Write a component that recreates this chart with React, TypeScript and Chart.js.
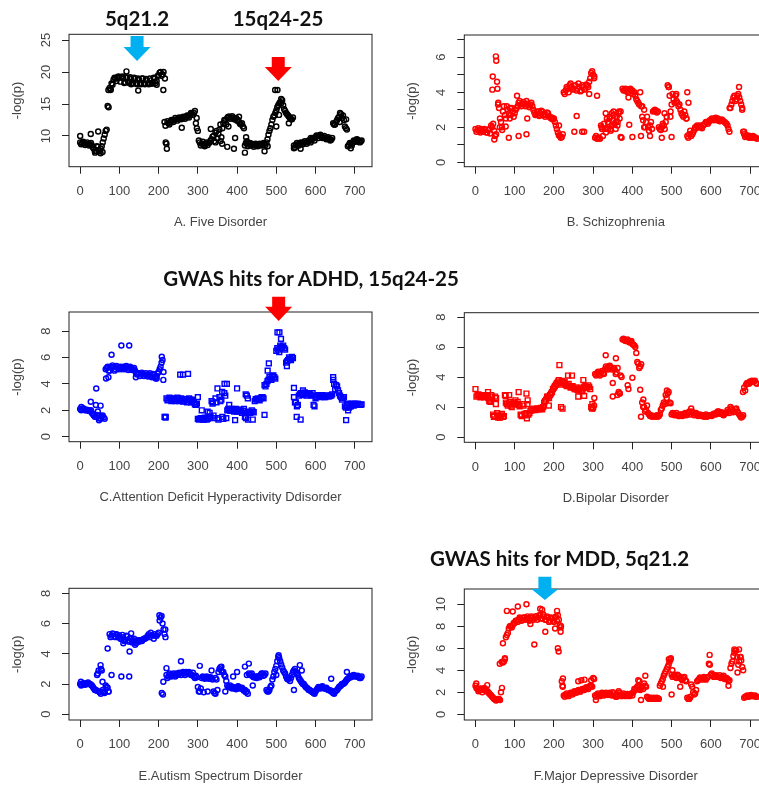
import { useEffect, useRef } from "react";
import { Chart, registerables } from "chart.js";

Chart.register(...registerables);

// SNP index spacing of the sampled values below:
// *Y arrays are read at x = 0,5,10,...; *Y2 arrays (other edge of each band) at x = 2.5,7.5,...
const STEP = 5;
const xTickValues = [0, 100, 200, 300, 400, 500, 600, 700];

// ---------- A. Five Disorder ----------
const fiveDisorderY = [
  9.0, 8.9, 8.9, 8.8, 8.8, 8.7, 8.5, 8.0, 7.7, 8.3,
  7.6, 8.4, 9.6, 10.8, 14.7, 17.5, 18.2, 18.8, 19.0, 19.2,
  19.1, 19.2, 19.0, 18.4, 19.1, 18.3, 19.0, 18.2, 19.0, 18.1,
  18.8, 18.1, 19.0, 18.1, 18.7, 18.1, 18.7, 18.2, 19.0, 18.6,
  19.5, 20.0, 19.6, 12.2, 8.8, 12.0, 12.2, 12.4, 12.5, 12.6,
  12.7, 12.7, 12.8, 12.9, 13.0, 13.1, 13.3, 13.5, 13.6, 12.0,
  10.8, 9.0, 8.8, 8.6, 8.8, 8.6, 9.0, 9.5, 10.0, 10.5,
  9.6, 11.0, 9.8, 12.0, 12.4, 12.8, 13.0, 12.9, 12.8, 12.6,
  12.4, 12.2, 11.8, 11.5, 8.5, 8.8, 8.7, 8.5, 8.6, 8.5,
  8.6, 8.5, 8.7, 8.6, 8.8, 9.0, 10.2, 11.2, 12.5, 13.2,
  14.0, 14.8, 15.3, 15.6, 14.2, 13.6, 13.2, 12.8, 12.6, 8.5,
  8.6, 8.7, 8.8, 8.9, 9.0, 9.0, 9.1, 9.2, 9.4, 9.6,
  9.8, 10.0, 10.0, 9.9, 9.8, 9.7, 9.6, 9.5, 9.4, 12.0,
  11.8, 12.5, 13.0, 13.4, 13.2, 11.5, 11.0, 8.6, 8.8, 9.0,
  9.2, 9.3, 9.2, 9.1,
];
const fiveDisorderY2 = [
  8.7, 9.1, 8.6, 9.0, 8.5, 8.9, 8.2, 7.6, 8.4, 7.8,
  8.0, 9.0, 10.2, 11.0, 14.5, 17.2, 18.0, 19.1, 18.6, 19.3,
  18.5, 19.3, 18.3, 19.2, 18.4, 19.2, 18.3, 19.1, 18.2, 19.0,
  18.2, 19.0, 18.2, 18.9, 18.2, 19.0, 18.2, 19.1, 18.3, 19.4,
  19.9, 19.4, 20.0, 11.6, 12.3, 11.8, 12.5, 12.2, 12.8, 12.4,
  12.9, 12.6, 13.0, 12.7, 13.2, 12.9, 13.6, 13.3, 13.9, 11.2,
  9.3, 8.5, 9.1, 8.4, 9.0, 8.9, 9.3, 9.9, 9.2, 10.8,
  10.3, 11.8, 11.2, 12.5, 11.8, 13.0, 12.7, 13.1, 12.6, 12.8,
  12.5, 11.9, 12.0, 11.2, 8.9, 8.4, 8.9, 8.8, 8.3, 8.8,
  8.4, 8.8, 8.5, 8.9, 8.6, 9.5, 10.8, 11.8, 13.0, 13.6,
  14.5, 15.1, 15.8, 14.8, 13.9, 13.4, 13.0, 12.6, 12.9, 8.2,
  8.9, 8.5, 9.0, 8.7, 9.2, 8.8, 9.3, 9.0, 9.7, 9.3,
  10.1, 9.7, 10.2, 9.7, 10.0, 9.5, 9.8, 9.3, 9.7, 11.8,
  12.2, 12.8, 13.6, 12.8, 12.5, 11.2, 8.4, 8.9, 8.5, 9.3,
  9.1, 9.4, 9.0, 9.3,
];
const fiveDisorderExtra = [
  [0, 10.0], [27, 10.3], [38, 7.4], [46, 10.7], [52, 7.3], [57, 7.5], [72, 17.2], [78, 17.3],
  [118, 20.1], [130, 18.1], [148, 17.1], [178, 18.2], [195, 18.0], [212, 17.2], [216, 19.0],
  [218, 9.0], [221, 8.0], [259, 11.3], [297, 12.8], [333, 11.1], [345, 9.0], [358, 9.2],
  [362, 8.8], [375, 8.3], [378, 11.5], [392, 8.0], [395, 9.7], [405, 13.0], [420, 7.4],
  [423, 9.8], [425, 9.2], [470, 7.6], [478, 8.4], [497, 17.2], [503, 17.2], [500, 11.5],
  [507, 13.3], [512, 15.1], [532, 12.0], [545, 8.1], [562, 8.0], [588, 9.7], [630, 9.6],
  [648, 11.8], [662, 12.2], [678, 12.6], [690, 8.1], [705, 9.5],
];

// ---------- B. Schizophrenia ----------
const schizophreniaY = [
  1.9, 1.85, 1.8, 1.9, 1.75, 1.85, 1.7, 1.9, 2.1, 2.2,
  1.5, 4.6, 3.1, 2.3, 2.9, 2.7, 3.2, 2.8, 2.7, 2.9,
  2.8, 3.1, 3.4, 3.3, 3.35, 3.3, 3.5, 3.25, 3.3, 3.2,
  2.85, 2.75, 2.7, 2.8, 2.9, 2.75, 2.7, 2.8, 2.6, 2.55,
  2.5, 2.1, 1.7, 1.5, 1.45, 4.0, 4.1, 4.2, 4.4, 4.3,
  4.2, 4.4, 4.2, 4.3, 4.1, 4.3, 4.2, 4.4, 4.6, 5.1,
  5.0, 1.4, 1.35, 1.4, 2.1, 1.5, 1.9, 2.5, 2.2, 1.9,
  2.4, 2.2, 2.6, 2.8, 1.45, 4.2, 4.1, 4.15, 4.05, 4.2,
  4.1, 4.0, 3.6, 3.4, 4.0, 2.6, 3.0, 2.3, 2.0, 2.1,
  1.9, 2.95, 2.95, 2.9, 1.9, 2.0, 2.1, 2.3, 4.4, 3.8,
  3.3, 3.6, 3.8, 3.4, 3.3, 2.8, 2.6, 2.7, 1.5, 1.6,
  1.5, 1.7, 2.0, 2.1, 2.0, 2.0, 2.1, 2.2, 2.3, 2.3,
  2.4, 2.45, 2.5, 2.4, 2.45, 2.4, 2.4, 2.3, 2.2, 1.9,
  3.1, 3.5, 3.8, 3.6, 3.9, 3.5, 3.0, 1.6, 1.5, 1.45,
  1.5, 1.4, 1.45, 1.4,
];
const schizophreniaY2 = [
  1.75, 1.95, 1.7, 1.8, 1.9, 1.7, 1.85, 1.65, 2.0, 1.8,
  1.6, 3.3, 2.5, 2.0, 3.2, 2.5, 3.0, 2.5, 3.1, 2.6,
  3.0, 3.2, 3.5, 3.2, 3.45, 3.2, 3.35, 3.15, 3.4, 3.0,
  2.7, 2.9, 2.65, 2.95, 2.7, 2.6, 2.85, 2.6, 2.5, 2.45,
  2.3, 1.9, 1.55, 1.4, 1.6, 3.9, 4.3, 4.0, 4.5, 4.15,
  4.35, 4.1, 4.5, 4.05, 4.4, 4.15, 4.45, 4.3, 4.8, 5.2,
  4.8, 1.5, 1.4, 1.35, 1.9, 2.2, 1.7, 2.3, 2.6, 2.1,
  2.7, 1.9, 2.3, 2.5, 1.4, 4.1, 4.2, 4.0, 4.15, 4.1,
  3.9, 3.8, 3.5, 3.3, 3.2, 2.4, 2.0, 2.6, 1.8, 2.3,
  2.9, 3.0, 2.85, 2.0, 1.85, 2.2, 1.9, 2.6, 4.3, 2.9,
  3.9, 3.4, 3.5, 3.2, 3.0, 2.7, 2.9, 2.5, 1.4, 1.8,
  1.6, 1.85, 1.95, 2.05, 2.1, 1.95, 2.15, 2.3, 2.2, 2.4,
  2.5, 2.4, 2.55, 2.5, 2.35, 2.45, 2.35, 2.25, 2.1, 1.75,
  3.3, 3.7, 3.5, 3.8, 3.7, 3.3, 1.75, 1.45, 1.55, 1.4,
  1.45, 1.5, 1.4, 1.35,
];
const schizophreniaExtra = [
  [43, 4.15], [44, 4.9], [48, 1.3], [52, 6.05], [53, 5.8], [56, 4.2], [58, 3.4], [62, 2.0],
  [68, 1.85], [77, 2.05], [85, 1.4], [88, 3.1], [106, 3.8], [110, 1.5], [130, 1.6], [132, 2.5],
  [162, 2.9], [213, 2.1], [252, 1.75], [258, 2.65], [272, 1.75], [277, 1.75], [290, 3.9],
  [303, 4.9], [310, 3.8], [322, 2.0], [332, 2.8], [338, 1.9], [342, 2.5], [345, 1.8],
  [348, 2.8], [352, 2.9], [358, 2.3], [362, 2.1], [366, 2.9], [370, 2.9], [390, 3.7],
  [392, 2.15], [400, 1.45], [422, 1.5], [425, 3.2], [430, 2.0], [445, 1.5], [475, 1.4],
  [482, 2.8], [493, 4.3], [497, 2.6], [500, 1.45], [512, 3.9], [540, 4.0], [543, 3.4],
  [538, 2.5], [648, 3.1], [672, 4.3], [680, 3.1], [685, 1.75],
];

// ---------- C. ADHD ----------
const adhdY = [
  2.1, 2.05, 2.1, 2.0, 2.0, 1.95, 1.8, 1.6, 1.5, 1.9,
  1.6, 1.5, 1.45, 5.1, 5.3, 5.0, 5.2, 5.3, 5.1, 5.25,
  5.2, 5.1, 5.3, 5.2, 5.25, 5.15, 5.2, 5.1, 5.0, 4.7,
  4.8, 4.7, 4.75, 4.7, 4.65, 4.7, 4.6, 4.75, 4.5, 4.6,
  4.9, 5.3, 5.8, 1.5, 2.9, 2.8, 2.9, 2.75, 2.85, 2.8,
  2.9, 2.75, 2.8, 2.7, 2.85, 2.75, 2.8, 2.7, 2.6, 2.4,
  1.35, 1.35, 1.4, 1.3, 1.4, 1.35, 1.8, 2.7, 1.6, 2.9,
  1.4, 3.0, 2.8, 1.35, 3.1, 2.0, 2.1, 1.95, 2.05, 2.0,
  1.9, 2.05, 2.0, 1.95, 1.5, 3.1, 1.9, 1.85, 1.9, 2.7,
  2.8, 2.85, 2.9, 3.0, 3.9, 4.0, 4.3, 4.4, 4.6, 4.5,
  6.5, 6.6, 6.9, 6.8, 6.7, 5.6, 5.8, 5.9, 6.05, 3.0,
  2.6, 2.4, 3.2, 3.3, 3.2, 3.3, 3.2, 3.25, 3.1, 2.4,
  2.9, 3.1, 3.05, 3.1, 3.05, 3.0, 3.1, 3.05, 3.1, 4.3,
  3.6, 3.8, 3.3, 3.0, 2.9, 2.3, 2.4, 2.2, 2.3, 2.4,
  2.5, 2.45, 2.45, 2.4,
];
const adhdY2 = [
  2.0, 2.15, 2.0, 2.05, 1.95, 2.0, 1.7, 1.5, 1.65, 1.4,
  1.35, 1.6, 1.35, 5.2, 5.0, 5.3, 5.4, 5.0, 5.35, 5.1,
  5.3, 5.2, 5.1, 5.35, 5.05, 5.3, 5.05, 5.2, 4.8, 4.8,
  4.6, 4.85, 4.6, 4.8, 4.55, 4.8, 4.5, 4.65, 4.4, 4.8,
  5.1, 5.6, 4.9, 1.45, 2.75, 2.95, 2.7, 2.9, 2.7, 2.95,
  2.7, 2.9, 2.65, 2.85, 2.6, 2.9, 2.6, 2.8, 2.45, 2.5,
  1.3, 1.4, 1.3, 1.45, 1.3, 1.4, 1.5, 2.5, 1.4, 2.6,
  1.3, 2.7, 1.5, 3.3, 1.4, 2.1, 1.95, 2.1, 1.9, 2.1,
  2.0, 1.9, 1.8, 2.1, 1.4, 2.9, 1.8, 2.0, 1.85, 2.85,
  2.9, 2.75, 3.0, 2.9, 3.8, 4.2, 4.5, 4.3, 4.65, 4.4,
  6.7, 6.4, 6.8, 6.9, 6.6, 5.7, 6.0, 5.8, 5.95, 2.6,
  2.3, 3.1, 3.3, 3.15, 3.35, 3.1, 3.3, 3.15, 3.3, 2.3,
  3.0, 3.15, 3.0, 3.15, 3.0, 3.1, 3.05, 3.1, 3.2, 4.0,
  3.9, 3.5, 3.1, 2.8, 3.0, 2.2, 2.5, 2.3, 2.5, 2.35,
  2.4, 2.5, 2.4, 2.45,
];
const adhdExtra = [
  [3, 2.25], [27, 2.65], [40, 2.4], [41, 3.65], [48, 1.25], [52, 2.35], [66, 4.4], [72, 4.5],
  [80, 6.2], [105, 6.9], [125, 6.9], [142, 4.5], [195, 4.4], [208, 6.05], [212, 4.3],
  [218, 1.5], [255, 4.7], [262, 4.7], [275, 4.75], [300, 3.0], [310, 2.0], [325, 1.9],
  [338, 2.6], [350, 3.65], [362, 3.4], [368, 4.0], [374, 4.0], [380, 2.4], [395, 1.25],
  [400, 3.65], [422, 3.2], [428, 1.3], [440, 1.3], [470, 1.65], [478, 5.0], [481, 5.55],
  [503, 7.9], [508, 7.9], [512, 7.4], [527, 5.35], [545, 3.7], [552, 1.5], [562, 1.3],
  [568, 3.5], [645, 4.5], [678, 1.25], [683, 2.0],
];

// ---------- D. Bipolar ----------
const bipolarY = [
  3.2, 2.8, 2.75, 2.7, 2.75, 2.7, 2.75, 2.4, 2.8, 1.5,
  2.7, 1.6, 1.4, 1.45, 1.35, 2.8, 2.2, 2.25, 2.1, 2.2,
  2.3, 2.2, 2.15, 1.5, 2.2, 1.55, 1.6, 1.5, 1.75, 1.8,
  1.85, 1.85, 1.9, 1.9, 1.85, 2.3, 2.5, 2.7, 2.8, 3.0,
  3.3, 3.5, 3.7, 3.6, 3.75, 3.6, 3.5, 3.45, 3.4, 3.35,
  3.3, 3.2, 3.15, 3.2, 3.1, 3.25, 3.4, 3.3, 3.35, 2.0,
  1.9, 4.2, 4.25, 4.2, 4.3, 4.25, 4.5, 4.6, 4.7, 4.6,
  3.6, 4.5, 4.3, 3.0, 4.1, 6.5, 6.45, 6.4, 6.4, 6.35,
  6.2, 6.1, 5.6, 4.9, 4.7, 2.3, 2.0, 1.8, 1.6, 1.4,
  1.35, 1.4, 1.4, 1.35, 1.5, 1.9, 2.3, 2.8, 2.9, 2.3,
  1.5, 1.55, 1.5, 1.45, 1.4, 1.5, 1.45, 1.6, 1.5, 1.7,
  1.9, 1.6, 1.55, 1.5, 1.45, 1.4, 1.45, 1.4, 1.35, 1.4,
  1.45, 1.5, 1.55, 1.6, 1.7, 1.6, 1.5, 1.55, 1.6, 1.7,
  2.0, 1.8, 1.7, 1.9, 1.6, 1.4, 1.35, 3.3, 3.5, 3.6,
  3.7, 3.75, 3.7, 3.6,
];
const bipolarY2 = [
  2.7, 2.85, 2.65, 2.8, 2.65, 2.8, 2.6, 2.5, 2.7, 1.4,
  2.6, 1.5, 1.3, 1.55, 1.4, 2.3, 2.1, 2.35, 2.0, 2.3,
  2.2, 2.35, 2.05, 1.45, 2.1, 1.45, 2.2, 1.6, 1.8, 1.9,
  1.8, 1.9, 1.85, 1.95, 2.0, 2.4, 2.7, 2.6, 2.9, 3.2,
  3.4, 3.6, 3.8, 3.5, 3.65, 3.7, 3.4, 3.55, 3.3, 3.4,
  3.2, 3.3, 3.1, 3.3, 3.05, 3.35, 3.3, 3.45, 3.2, 1.9,
  2.1, 4.1, 4.35, 4.1, 4.4, 4.2, 4.7, 4.5, 4.75, 4.5,
  4.6, 4.2, 4.6, 2.9, 4.0, 6.55, 6.4, 6.5, 6.3, 6.4,
  6.15, 6.0, 5.0, 4.6, 4.85, 2.0, 1.7, 2.1, 1.5, 1.45,
  1.4, 1.35, 1.45, 1.4, 1.8, 2.1, 2.2, 2.6, 3.0, 2.25,
  1.6, 1.45, 1.6, 1.4, 1.5, 1.4, 1.55, 1.45, 1.6, 1.5,
  1.7, 1.45, 1.6, 1.4, 1.5, 1.45, 1.35, 1.5, 1.4, 1.45,
  1.4, 1.55, 1.5, 1.7, 1.55, 1.65, 1.45, 1.6, 1.8, 1.6,
  1.9, 1.65, 1.85, 1.7, 1.5, 1.3, 1.45, 3.1, 3.6, 3.55,
  3.65, 3.7, 3.75, 3.55,
];
const bipolarExtra = [
  [32, 3.0], [38, 2.35], [47, 1.35], [52, 2.2], [58, 1.3], [77, 2.75], [86, 2.8], [102, 2.45],
  [110, 3.0], [118, 1.4], [130, 2.9], [131, 1.25], [133, 2.45], [187, 2.1], [214, 4.8],
  [218, 2.0], [222, 1.9], [236, 4.1], [246, 4.1], [262, 2.7], [275, 3.8], [277, 2.75],
  [298, 2.2], [303, 2.6], [332, 5.45], [350, 2.7], [358, 5.25], [362, 2.8], [368, 2.9],
  [388, 3.45], [390, 3.2], [400, 3.95], [420, 3.15], [422, 1.35], [428, 2.5], [488, 3.1],
  [490, 2.25], [682, 3.0],
];

// ---------- E. Autism ----------
const autismY = [
  2.0, 1.95, 2.0, 2.05, 2.1, 2.0, 1.9, 1.7, 1.6, 2.7,
  1.45, 2.9, 1.5, 1.9, 1.75, 5.3, 5.2, 5.3, 5.1, 5.25,
  5.2, 5.0, 5.1, 4.9, 5.15, 4.8, 5.0, 4.9, 4.8, 4.85,
  4.8, 4.9, 4.95, 5.0, 5.1, 5.3, 5.4, 5.2, 5.3, 5.2,
  5.4, 6.4, 6.0, 5.3, 2.6, 2.5, 2.6, 2.55, 2.6, 2.7,
  2.65, 2.7, 2.75, 2.7, 2.8, 2.75, 2.7, 2.6, 2.5, 2.55,
  1.8, 1.5, 2.4, 2.45, 2.4, 2.45, 2.4, 2.35, 1.5, 2.4,
  1.6, 3.0, 2.9, 2.8, 2.5, 1.9, 1.8, 1.75, 1.8, 1.7,
  1.75, 1.8, 1.7, 1.65, 1.6, 1.5, 2.7, 2.6, 2.5, 2.45,
  2.4, 2.5, 2.6, 2.7, 2.6, 1.6, 1.5, 1.8, 2.3, 2.8,
  3.2, 3.8, 3.5, 3.1, 2.8, 2.5, 2.3, 2.2, 2.6, 2.9,
  2.8, 2.6, 2.3, 2.1, 2.0, 1.8, 1.7, 1.6, 1.5, 1.4,
  1.5, 1.7, 1.75, 1.8, 1.75, 1.7, 1.65, 1.6, 1.55, 1.4,
  1.5, 1.6, 1.8, 1.9, 2.0, 2.1, 2.3, 2.4, 2.45, 2.5,
  2.55, 2.5, 2.45, 2.4,
];
const autismY2 = [
  1.9, 2.05, 1.95, 2.0, 2.0, 1.95, 1.8, 1.6, 1.55, 1.5,
  1.35, 1.6, 1.45, 1.8, 1.5, 5.1, 5.35, 5.15, 5.3, 5.1,
  5.0, 5.25, 4.85, 5.2, 4.9, 5.05, 4.75, 5.0, 4.7, 4.9,
  4.9, 4.85, 5.0, 5.05, 5.2, 5.1, 5.25, 5.0, 5.2, 5.3,
  6.2, 6.5, 5.6, 5.1, 2.4, 2.7, 2.5, 2.7, 2.5, 2.6,
  2.75, 2.6, 2.8, 2.6, 2.7, 2.8, 2.6, 2.75, 2.4, 2.45,
  1.5, 1.7, 2.5, 2.35, 2.5, 2.35, 2.45, 2.3, 1.4, 2.3,
  2.8, 3.1, 2.8, 2.6, 2.2, 1.8, 1.9, 1.7, 1.75, 1.65,
  1.85, 1.7, 1.75, 1.55, 1.45, 1.35, 2.6, 2.7, 2.45, 2.5,
  2.5, 2.45, 2.7, 2.55, 2.7, 1.5, 1.6, 1.9, 2.5, 3.0,
  3.5, 3.7, 3.3, 2.9, 2.7, 2.35, 2.4, 2.4, 2.8, 3.0,
  2.7, 2.4, 2.2, 2.0, 1.9, 1.75, 1.6, 1.55, 1.45, 1.35,
  1.6, 1.8, 1.7, 1.85, 1.7, 1.75, 1.6, 1.55, 1.45, 1.35,
  1.55, 1.7, 1.85, 2.0, 2.05, 2.2, 2.35, 2.5, 2.55, 2.6,
  2.5, 2.55, 2.4, 2.5,
];
const autismExtra = [
  [2, 2.15], [43, 2.6], [47, 2.9], [52, 3.25], [53, 3.0], [57, 2.15], [62, 1.4], [70, 4.35],
  [72, 1.5], [80, 2.6], [105, 2.5], [110, 4.7], [125, 2.5], [126, 4.15], [130, 5.35],
  [140, 4.6], [202, 6.55], [208, 1.4], [211, 1.3], [212, 2.15], [217, 5.6], [220, 3.05],
  [257, 3.5], [305, 3.2], [315, 1.45], [325, 1.5], [335, 2.9], [345, 1.35], [360, 3.15],
  [370, 1.5], [390, 2.5], [400, 2.8], [420, 3.15], [425, 2.6], [430, 3.35], [440, 1.9],
  [500, 2.6], [506, 3.9], [545, 1.6], [560, 3.25], [565, 2.9], [640, 2.35], [680, 2.8],
];

// ---------- F. Major Depressive Disorder ----------
const mddY = [
  2.6, 2.3, 2.2, 2.3, 2.2, 2.3, 2.1, 1.9, 1.7, 1.5,
  1.35, 1.3, 1.4, 2.0, 4.7, 5.0, 7.2, 7.8, 8.0, 8.1,
  8.3, 8.5, 8.6, 8.7, 8.6, 8.8, 8.7, 8.75, 8.6, 8.8,
  8.7, 8.9, 8.8, 9.0, 8.7, 8.9, 8.6, 8.8, 8.5, 8.7,
  8.4, 8.9, 9.0, 8.1, 3.0, 1.7, 1.8, 1.75, 1.85, 1.9,
  2.0, 2.05, 2.1, 2.15, 2.2, 2.3, 2.35, 2.4, 2.5, 2.6,
  3.3, 1.7, 1.8, 1.75, 1.8, 1.85, 1.8, 1.9, 1.85, 1.8,
  2.0, 1.7, 1.6, 2.1, 1.8, 1.75, 1.8, 1.7, 1.75, 1.8,
  1.7, 2.3, 2.4, 2.6, 2.2, 2.5, 2.8, 2.5, 1.5, 1.4,
  1.45, 1.5, 1.4, 1.45, 2.6, 3.0, 3.5, 3.9, 4.3, 4.8,
  3.6, 3.5, 3.4, 3.6, 3.3, 3.2, 3.3, 3.1, 1.5, 1.4,
  2.7, 2.0, 1.9, 3.0, 3.2, 3.25, 3.3, 3.2, 3.3, 4.6,
  3.6, 3.5, 3.4, 3.5, 3.4, 3.3, 3.4, 3.2, 3.3, 3.0,
  4.2, 4.8, 5.6, 5.8, 4.5, 5.2, 4.3, 1.5, 1.6, 1.65,
  1.7, 1.7, 1.65, 1.6,
];
const mddY2 = [
  2.4, 2.1, 2.35, 2.0, 2.4, 2.2, 2.0, 1.8, 1.6, 1.4,
  1.25, 1.4, 1.3, 2.4, 4.8, 7.0, 7.4, 8.0, 7.9, 8.3,
  8.5, 8.4, 8.8, 8.5, 8.8, 8.6, 8.9, 8.5, 8.9, 8.6,
  8.9, 8.6, 9.0, 8.7, 9.1, 8.6, 8.9, 8.4, 8.8, 8.5,
  8.8, 8.5, 8.6, 7.9, 2.5, 1.6, 1.9, 1.65, 1.95, 1.8,
  2.1, 1.95, 2.2, 2.05, 2.3, 2.2, 2.45, 2.3, 2.6, 2.5,
  3.2, 1.6, 1.9, 1.65, 1.95, 1.7, 1.95, 1.75, 1.95, 1.7,
  1.9, 1.6, 1.8, 1.95, 1.65, 1.9, 1.65, 1.85, 1.65, 1.9,
  2.0, 2.2, 2.5, 2.3, 2.4, 2.3, 2.6, 1.6, 1.4, 1.5,
  1.4, 1.45, 1.5, 1.4, 2.8, 3.2, 3.7, 4.1, 4.5, 5.0,
  3.4, 3.6, 3.3, 3.5, 3.4, 3.1, 3.4, 3.0, 1.4, 1.55,
  2.5, 1.8, 2.2, 3.1, 3.35, 3.15, 3.4, 3.15, 3.4, 4.5,
  3.7, 3.4, 3.55, 3.4, 3.55, 3.35, 3.5, 3.3, 3.2, 3.1,
  4.6, 5.3, 5.8, 5.2, 4.8, 4.9, 4.0, 1.6, 1.7, 1.6,
  1.75, 1.65, 1.7, 1.6,
];
const mddExtra = [
  [2, 2.8], [30, 2.65], [62, 4.6], [67, 4.75], [70, 6.45], [75, 5.1], [80, 9.4], [95, 9.35],
  [108, 9.8], [130, 10.0], [140, 8.2], [150, 6.35], [165, 9.6], [170, 9.5], [178, 7.5],
  [203, 7.8], [208, 9.4], [210, 6.0], [212, 5.7], [217, 7.5], [218, 8.0], [222, 2.6],
  [223, 3.25], [262, 3.0], [270, 3.1], [278, 3.15], [295, 3.1], [307, 1.3], [415, 3.1],
  [418, 3.0], [433, 3.5], [422, 1.3], [478, 2.5], [493, 5.0], [498, 5.1], [500, 1.8],
  [502, 4.0], [522, 2.5], [548, 1.6], [597, 5.4], [645, 2.6], [660, 5.9], [668, 3.8],
  [672, 5.9], [676, 5.2],
];

// ---------- styling / layout ----------
const RED = "#FF0000";
const BLUE = "#0000FF";
const BLACK = "#000000";
const ARROW_BLUE = "#00B0F0";
const TEXT = "#444444";
const AXIS = "#222222";
const FONT = '"Liberation Sans", Arial, Helvetica, sans-serif';
const PLOT_W = 303;
const X_MIN = -28.5;
const X_MAX = 744;

function toPoints(ys, ys2, extra) {
  const pts = ys.map((y, i) => ({ x: i * STEP, y }));
  ys2.forEach((y, i) => pts.push({ x: i * STEP + STEP / 2, y }));
  for (const [x, y] of extra) pts.push({ x, y });
  return pts;
}

const panels = [
  {
    key: "A", left: 0, top: 0, w: 380, h: 245,
    areaLeft: 69, areaTop: 34.3, areaBottom: 166.7,
    yMin: 5.2, yMax: 25.9, yTicks: [10, 15, 20, 25], yLabels: [10, 15, 20, 25],
    color: BLACK, caption: "A. Five Disorder",
    ys: fiveDisorderY, ys2: fiveDisorderY2, extra: fiveDisorderExtra, square: null,
    arrows: [
      { x: 145, top: 36, neck: 47, tip: 61, color: ARROW_BLUE },
      { x: 505, top: 57, neck: 67, tip: 81, color: RED },
    ],
  },
  {
    key: "B", left: 380, top: 0, w: 400, h: 245,
    areaLeft: 84.3, areaTop: 35, areaBottom: 166.7,
    yMin: -0.25, yMax: 7.27, yTicks: [0, 1, 2, 3, 4, 5, 6, 7], yLabels: [0, 2, 4, 6],
    color: RED, caption: "B. Schizophrenia",
    ys: schizophreniaY, ys2: schizophreniaY2, extra: schizophreniaExtra, square: null, arrows: [],
  },
  {
    key: "C", left: 0, top: 245, w: 380, h: 275,
    areaLeft: 69, areaTop: 67, areaBottom: 196.7,
    yMin: -0.38, yMax: 9.44, yTicks: [0, 2, 4, 6, 8], yLabels: [0, 2, 4, 6, 8],
    color: BLUE, caption: "C.Attention Deficit Hyperactivity Ddisorder",
    ys: adhdY, ys2: adhdY2, extra: adhdExtra, square: (x) => x >= 215,
    arrows: [{ x: 506, top: 51.7, neck: 61.7, tip: 76, color: RED }],
  },
  {
    key: "D", left: 380, top: 245, w: 400, h: 275,
    areaLeft: 84.3, areaTop: 67.7, areaBottom: 197.3,
    yMin: -0.35, yMax: 8.29, yTicks: [0, 2, 4, 6, 8], yLabels: [0, 2, 4, 6, 8],
    color: RED, caption: "D.Bipolar Disorder",
    ys: bipolarY, ys2: bipolarY2, extra: bipolarExtra, square: (x) => x < 300, arrows: [],
  },
  {
    key: "E", left: 0, top: 520, w: 380, h: 265,
    areaLeft: 69, areaTop: 68.3, areaBottom: 200,
    yMin: -0.38, yMax: 8.33, yTicks: [0, 2, 4, 6, 8], yLabels: [0, 2, 4, 6, 8],
    color: BLUE, caption: "E.Autism Spectrum Disorder",
    ys: autismY, ys2: autismY2, extra: autismExtra, square: null, arrows: [],
  },
  {
    key: "F", left: 380, top: 520, w: 400, h: 265,
    areaLeft: 84.3, areaTop: 69, areaBottom: 200,
    yMin: -0.52, yMax: 11.39, yTicks: [0, 2, 4, 6, 8, 10], yLabels: [0, 2, 4, 6, 8, 10],
    color: RED, caption: "F.Major Depressive Disorder",
    ys: mddY, ys2: mddY2, extra: mddExtra, square: null,
    arrows: [{ x: 177, top: 56.7, neck: 69, tip: 80, color: ARROW_BLUE }],
  },
];

const titles = [
  { text: "5q21.2", cx: 137, cy: 18 },
  { text: "15q24-25", cx: 278, cy: 18 },
  { text: "GWAS hits for ADHD, 15q24-25", cx: 311, cy: 278 },
  { text: "GWAS hits for MDD, 5q21.2", cx: 559.5, cy: 558 },
];

const decorPlugin = {
  id: "panelDecor",
  afterDraw(chart, _args, opts) {
    const { ctx, chartArea: a, scales } = chart;
    const xs = scales.x;
    const ys = scales.y;
    ctx.save();
    ctx.strokeStyle = AXIS;
    ctx.lineWidth = 1;
    ctx.strokeRect(a.left, a.top, a.right - a.left, a.bottom - a.top);

    ctx.fillStyle = TEXT;
    ctx.font = `13px ${FONT}`;
    ctx.textAlign = "center";
    ctx.textBaseline = "middle";
    for (const v of opts.yLabels) {
      const y = ys.getPixelForValue(v);
      ctx.save();
      ctx.translate(a.left - 23, y);
      ctx.rotate(-Math.PI / 2);
      ctx.fillText(String(v), 0, 0);
      ctx.restore();
    }
    ctx.save();
    ctx.translate(a.left - 52, (a.top + a.bottom) / 2);
    ctx.rotate(-Math.PI / 2);
    ctx.fillText("-log(p)", 0, 0);
    ctx.restore();

    ctx.fillText(opts.caption, (a.left + a.right) / 2, a.bottom + 56);

    for (const ar of opts.arrows) {
      const cx = xs.getPixelForValue(ar.x);
      ctx.fillStyle = ar.color;
      ctx.beginPath();
      ctx.moveTo(cx - 6.5, ar.top);
      ctx.lineTo(cx + 6.5, ar.top);
      ctx.lineTo(cx + 6.5, ar.neck);
      ctx.lineTo(cx + 13.5, ar.neck);
      ctx.lineTo(cx, ar.tip);
      ctx.lineTo(cx - 13.5, ar.neck);
      ctx.lineTo(cx - 6.5, ar.neck);
      ctx.closePath();
      ctx.fill();
    }
    ctx.restore();
  },
};

function PanelChart({ spec }) {
  const ref = useRef(null);
  useEffect(() => {
    const canvas = ref.current;
    if (!canvas) return;
    const isSquare = (c) => !!(spec.square && c.raw && spec.square(c.raw.x));
    const tickGrid = {
      display: true,
      drawOnChartArea: false,
      drawTicks: true,
      tickLength: 7,
      color: AXIS,
      lineWidth: 1,
    };
    const chart = new Chart(canvas, {
      type: "scatter",
      data: {
        datasets: [
          {
            data: toPoints(spec.ys, spec.ys2, spec.extra),
            pointStyle: (c) => (isSquare(c) ? "rect" : "circle"),
            pointRadius: (c) => (isSquare(c) ? 3.4 : 2.5),
            pointBorderWidth: 1.45,
            pointBorderColor: spec.color,
            pointBackgroundColor: "rgba(0,0,0,0)",
            borderColor: spec.color,
            backgroundColor: "rgba(0,0,0,0)",
            showLine: false,
          },
        ],
      },
      options: {
        responsive: false,
        animation: false,
        events: [],
        layout: {
          padding: {
            left: 0,
            top: spec.areaTop,
            right: spec.w - spec.areaLeft - PLOT_W,
            bottom: 0,
          },
        },
        plugins: {
          legend: { display: false },
          tooltip: { enabled: false },
          panelDecor: { yLabels: spec.yLabels, caption: spec.caption, arrows: spec.arrows },
        },
        scales: {
          x: {
            type: "linear",
            position: "bottom",
            min: X_MIN,
            max: X_MAX,
            afterBuildTicks: (s) => {
              s.ticks = xTickValues.map((v) => ({ value: v }));
            },
            afterFit: (s) => {
              s.height = spec.h - spec.areaBottom;
            },
            grid: tickGrid,
            border: { display: false },
            ticks: {
              color: TEXT,
              font: { family: FONT, size: 13 },
              padding: 10,
              maxRotation: 0,
              minRotation: 0,
              autoSkip: false,
              callback: (v) => String(v),
            },
          },
          y: {
            type: "linear",
            position: "left",
            min: spec.yMin,
            max: spec.yMax,
            afterBuildTicks: (s) => {
              s.ticks = spec.yTicks.map((v) => ({ value: v }));
            },
            afterFit: (s) => {
              s.width = spec.areaLeft;
            },
            grid: tickGrid,
            border: { display: false },
            ticks: { display: false },
          },
        },
      },
      plugins: [decorPlugin],
    });
    return () => chart.destroy();
  }, [spec]);
  return (
    <canvas
      ref={ref}
      width={spec.w}
      height={spec.h}
      style={{ position: "absolute", left: spec.left, top: spec.top, width: spec.w, height: spec.h }}
    />
  );
}

export default function App() {
  return (
    <div
      style={{
        position: "absolute",
        left: 0,
        top: 0,
        width: 759,
        height: 785,
        overflow: "hidden",
        background: "#ffffff",
      }}
    >
      {panels.map((p) => (
        <PanelChart key={p.key} spec={p} />
      ))}
      {titles.map((t) => (
        <div
          key={t.text}
          style={{
            position: "absolute",
            left: t.cx - 250,
            top: t.cy - 13,
            width: 500,
            height: 26,
            lineHeight: "26px",
            textAlign: "center",
            fontFamily: 'Lato, "Open Sans", sans-serif',
            fontWeight: 700,
            fontSize: 20.5,
            color: "#111111",
            whiteSpace: "nowrap",
          }}
        >
          {t.text}
        </div>
      ))}
    </div>
  );
}
